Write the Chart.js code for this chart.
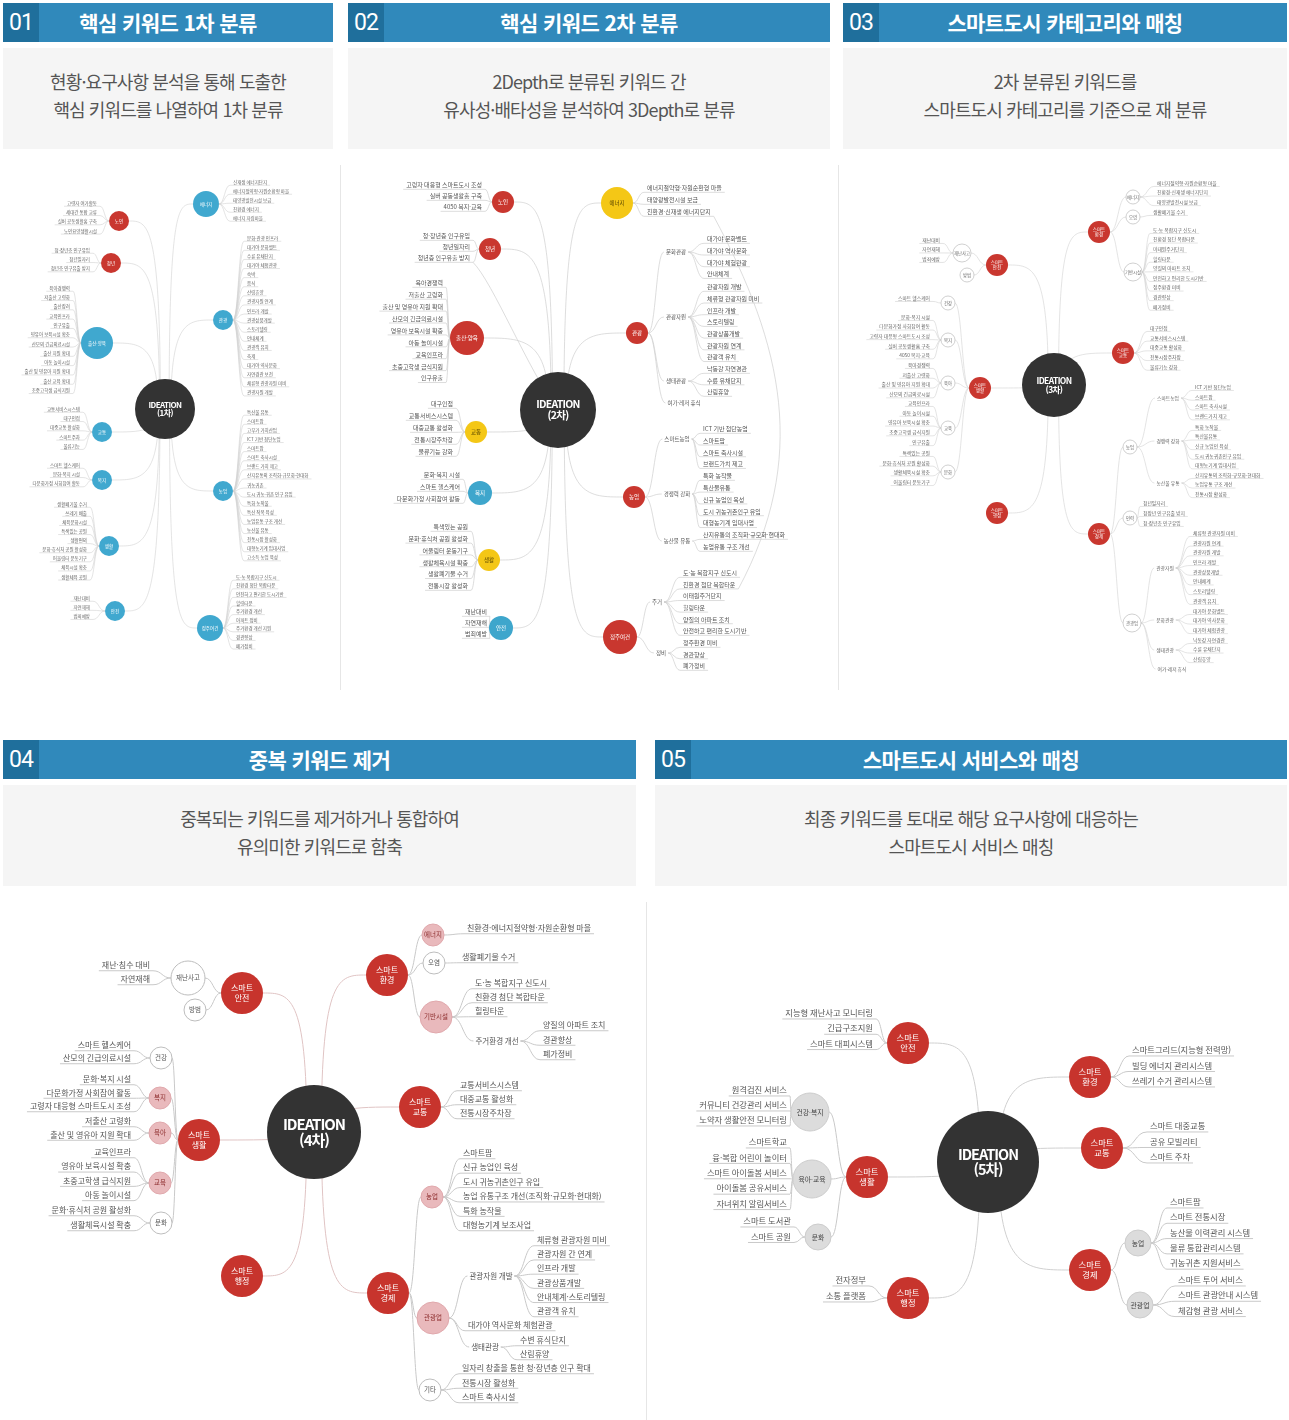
<!DOCTYPE html>
<html lang="ko">
<head>
<meta charset="utf-8">
<script src="https://cdn.jsdelivr.net/npm/chart.js@4.4.1/dist/chart.umd.min.js"></script>
<style>
html,body{margin:0;padding:0;background:#fff;}
#page{position:relative;width:1289px;height:1420px;overflow:hidden;font-family:"Noto Sans CJK KR","Noto Sans",sans-serif;}
#page canvas{position:absolute;}
.hd{position:absolute;height:39px;background:#3089bb;color:#fff;}
.hd .num{position:absolute;left:0;top:0;width:36px;height:39px;background:#1f6f9c;font:400 23px Roboto,sans-serif;line-height:39px;text-align:center;letter-spacing:-1px;z-index:1;}
.hd .tt{position:absolute;left:0;right:0;top:0;line-height:38px;text-align:center;font-weight:700;font-size:21px;letter-spacing:-0.6px;}
.desc{position:absolute;height:101px;background:#f5f5f5;color:#555;text-align:center;font-size:18px;line-height:28px;letter-spacing:-0.9px;box-sizing:border-box;padding-top:19px;}
.sep{position:absolute;width:1px;background:#e6e6e6;}
</style>
</head>
<body>
<div id="page"></div>
<script>
// ---------- panel texts
const panelNums = ['01', '02', '03', '04', '05'];
const panelTitles = ['핵심 키워드 1차 분류', '핵심 키워드 2차 분류', '스마트도시 카테고리와 매칭', '중복 키워드 제거', '스마트도시 서비스와 매칭'];
const panelDescs = [
    ['현황·요구사항 분석을 통해 도출한', '핵심 키워드를 나열하여 1차 분류'],
    ['2Depth로 분류된 키워드 간', '유사성·배타성을 분석하여 3Depth로 분류'],
    ['2차 분류된 키워드를', '스마트도시 카테고리를 기준으로 재 분류'],
    ['중복되는 키워드를 제거하거나 통합하여', '유의미한 키워드로 함축'],
    ['최종 키워드를 토대로 해당 요구사항에 대응하는', '스마트도시 서비스 매칭']
];

// ---------- map 1 : [label, x, y, kind, parent]
const m1Nodes = [
    ['IDEATION\n(1차)', 165, 409, 'hub', -1],
    ['노인', 119, 221, 'red', 0],
    ['청년', 111, 263, 'red', 0],
    ['출산·양육', 97, 343, 'blueL', 0],
    ['교통', 102, 432, 'blue', 0],
    ['복지', 102, 480, 'blue', 0],
    ['생활', 109, 546, 'blue', 0],
    ['안전', 115, 611, 'blue', 0],
    ['에너지', 206, 204, 'blueM', 0],
    ['관광', 223, 320, 'blue', 0],
    ['농업', 223, 491, 'blue', 0],
    ['정주여건', 210, 628, 'blueM', 0]
];
// [parent, x, firstY, step, items]
const m1Leaves = [
    [1, 97, 203, 9.3, ['고령자 여가활동', '세대간 통합 교류', '실버 공동생활홈 구축', '노인요양생활시설']],
    [2, 90, 250, 9.3, ['청·장년층 인구유입', '청년일자리', '청년층 인구유출 방지']],
    [3, 70, 288, 9.3, ['육아경쟁력', '저출산 고령화', '출산장려', '교육인프라', '인구유출', '영유아 보육시설 확충', '산모의 긴급의료시설', '출산 지원 확대', '아동 놀이시설', '출산 및 영유아 지원 확대', '출산 교육 확대', '초중고학생 급식지원']],
    [4, 80, 409, 9.3, ['교통서비스시스템', '대구인접', '대중교통 활성화', '스마트주차', '물류기능']],
    [5, 80, 465, 9.3, ['스마트 헬스케어', '문화·복지 시설', '다문화가정 사회참여 활동']],
    [6, 87, 504, 9.1, ['생활폐기물 수거', '쓰레기 배출', '체육문화시설', '특색있는 공원', '생활편의', '문화·휴식처 공원 활성화', '어울림터 운동기구', '체육시설 확충', '생활체육 공원']],
    [7, 90, 598, 9.1, ['재난대비', '자연재해', '범죄예방']],
    [8, 233, 182, 9, ['신재생 에너지단지', '에너지절약형·자원순환형 마을', '태양광발전시설 보급', '친환경 에너지', '에너지 자립마을']],
    [9, 247, 238, 9.1, ['문화·관광 인프라', '대가야 문화벨트', '수륜 유채단지', '대가야 체험관광', '숙박', '음식', '산림휴양', '관광자원 연계', '인프라 개발', '관광상품개발', '스토리텔링', '안내체계', '관광객 유치', '축제', '대가야 역사문화', '자연경관 보전', '체류형 관광자원 미비', '관광자원 개발']],
    [10, 247, 412, 9.1, ['특산물 유통', '스마트팜', '고부가 가치산업', 'ICT 기반 첨단농업', '스마트팜', '스마트 축사시설', '브랜드 가치 제고', '산지유통의 조직화·규모화·현대화', '귀농귀촌', '도시 귀농·귀촌 인구 유입', '특화 농작물', '특산 작목 육성', '농업유통 구조 개선', '농산물 유통', '전통시장 활성화', '대형농기계 임대사업', '고소득 농업 육성']],
    [11, 236, 577, 8.6, ['도·농 복합지구 신도시', '친환경 첨단 복합타운', '안전하고 편리한 도시기반', '힐링타운', '주거환경 개선', '아파트 정비', '주거환경 개선 지원', '경관향상', '폐가정비']]
];

// ---------- map 2
const m2Nodes = [
    ['IDEATION\n(2차)', 558, 410, 'hub', -1],
    ['노인', 503, 202, 'red', 0],
    ['청년', 490, 249, 'red', 0],
    ['출산·양육', 467, 338, 'redL', 0],
    ['교통', 476, 432, 'yellow', 0],
    ['복지', 480, 493, 'blue', 0],
    ['생활', 489, 560, 'yellow', 0],
    ['안전', 501, 628, 'blue', 0],
    ['에너지', 617, 203, 'yellowL', 0],
    ['관광', 637, 333, 'red', 0],
    ['농업', 634, 497, 'red', 0],
    ['정주여건', 620, 637, 'redL', 0],
    ['문화관광', 676, 252, 'txt', 9],
    ['관광자원', 676, 317, 'txt', 9],
    ['생태관광', 676, 381, 'txt', 9],
    ['여가·레저 휴식', 684, 403, 'txt', 9],
    ['스마트농업', 677, 439, 'txt', 10],
    ['경쟁력 강화', 677, 494, 'txt', 10],
    ['농산물 유통', 677, 541, 'txt', 10],
    ['주거', 657, 602, 'txt', 11],
    ['정비', 661, 653, 'txt', 11]
];
const m2Leaves = [
    [1, 482, 185, 11, ['고령자 대응형 스마트도시 조성', '실버 공동생활홈 구축', '4050 복지·교육']],
    [2, 470, 236, 11, ['청·장년층 인구유입', '청년일자리', '청년층 인구유출 방지']],
    [3, 443, 283, 11.9, ['육아경쟁력', '저출산 고령화', '출산 및 영유아 지원 확대', '산모의 긴급의료시설', '영유아 보육시설 확충', '아동 놀이시설', '교육인프라', '초중고학생 급식지원', '인구유출']],
    [4, 453, 404, 12, ['대구인접', '교통서비스시스템', '대중교통 활성화', '전통시장주차장', '물류기능 강화']],
    [5, 460, 475, 12, ['문화·복지 시설', '스마트 헬스케어', '다문화가정 사회참여 활동']],
    [6, 468, 527, 11.8, ['특색있는 공원', '문화·휴식처 공원 활성화', '어울림터 운동기구', '생활체육시설 확충', '생활폐기물 수거', '전통시장 활성화']],
    [7, 487, 612, 11, ['재난대비', '자연재해', '범죄예방']],
    [8, 647, 188, 12, ['에너지절약형·자원순환형 마을', '태양광발전시설 보급', '친환경·신재생 에너지단지']],
    [12, 707, 239, 11.7, ['대가야 문화벨트', '대가야 역사문화', '대가야 체험관광', '안내체계']],
    [13, 707, 287, 11.7, ['관광자원 개발', '체류형 관광자원 미비', '인프라 개발', '스토리텔링', '관광상품개발', '관광자원 연계', '관광객 유치']],
    [14, 707, 369, 11.5, ['낙동강 자연경관', '수륜 유채단지', '산림휴양']],
    [16, 703, 429, 11.7, ['ICT 기반 첨단농업', '스마트팜', '스마트 축사시설', '브랜드가치 제고']],
    [17, 703, 476, 11.8, ['특화 농작물', '특산물유통', '신규 농업인 육성', '도시 귀농귀촌인구 유입', '대형농기계 임대사업']],
    [18, 703, 535, 12, ['산지유통의 조직화·규모화·현대화', '농업유통 구조 개선']],
    [19, 683, 573, 11.6, ['도·농 복합지구 신도시', '친환경 첨단 복합타운', '이태원주거단지', '힐링타운', '양질의 아파트 조치', '안전하고 편리한 도시기반']],
    [20, 683, 643, 11.5, ['정주환경 미비', '경관향상', '폐가정비']]
];
// cross links: [group, item, group (-1 = hub), item]
const m2Links = [[1, 2, -1, 0], [7, 2, 14, 1]];

// ---------- map 3
const m3Nodes = [
    ['IDEATION\n(3차)', 1054, 385, 'hub', -1],
    ['스마트\n안전', 997, 265, 'red', 0],
    ['스마트\n생활', 980, 388, 'red', 0],
    ['스마트\n행정', 997, 513, 'red', 0],
    ['스마트\n환경', 1099, 232, 'red', 0],
    ['스마트\n교통', 1123, 353, 'red', 0],
    ['스마트\n경제', 1099, 534, 'red', 0],
    ['재난사고', 962, 253, 'whiteL', 1],
    ['방범', 967, 275, 'white', 1],
    ['건강', 948, 303, 'white', 2],
    ['복지', 948, 340, 'white', 2],
    ['육아', 948, 383, 'white', 2],
    ['교육', 948, 428, 'white', 2],
    ['문화', 948, 472, 'white', 2],
    ['에너지', 1133, 197, 'white', 4],
    ['오염', 1133, 217, 'white', 4],
    ['기반시설', 1133, 272, 'whiteL', 4],
    ['농업', 1130, 447, 'white', 6],
    ['인력', 1130, 518, 'white', 6],
    ['관광업', 1132, 623, 'whiteL', 6],
    ['스마트농업', 1168, 398, 'txt', 17],
    ['경쟁력 강화', 1168, 441, 'txt', 17],
    ['농산물 유통', 1168, 483, 'txt', 17],
    ['관광자원', 1165, 568, 'txt', 19],
    ['문화관광', 1165, 620, 'txt', 19],
    ['생태관광', 1165, 650, 'txt', 19],
    ['여가·레저 휴식', 1172, 669, 'txt', 19]
];
const m3Leaves = [
    [7, 940, 240, 9.5, ['재난대비', '자연재해', '범죄예방']],
    [9, 930, 298, 9.5, ['스마트 헬스케어']],
    [10, 930, 317, 9.6, ['문화·복지 시설', '다문화가정 사회참여 활동', '고령자 대응형 스마트도시 조성', '실버 공동생활홈 구축', '4050 복지·교육']],
    [11, 930, 365, 9.8, ['육아경쟁력', '저출산 고령화', '출산 및 영유아 지원 확대', '산모의 긴급의료시설']],
    [12, 930, 403, 9.8, ['교육인프라', '아동 놀이시설', '영유아 보육시설 확충', '초중고학생 급식지원', '인구유출']],
    [13, 930, 453, 9.7, ['특색있는 공원', '문화·휴식처 공원 활성화', '생활체육시설 확충', '어울림터 운동기구']],
    [14, 1157, 183, 9.6, ['에너지절약형·자원순환형 마을', '친환경·신재생 에너지단지', '태양광발전시설 보급']],
    [15, 1153, 212, 9, ['생활폐기물 수거']],
    [16, 1153, 230, 9.6, ['도·농 복합지구 신도시', '친환경 첨단 복합타운', '이태원주거단지', '힐링타운', '양질의 아파트 조치', '안전하고 편리한 도시기반', '정주환경 미비', '경관향상', '폐가정비']],
    [5, 1150, 328, 9.7, ['대구인접', '교통서비스시스템', '대중교통 활성화', '전통시장주차장', '물류기능 강화']],
    [20, 1195, 387, 9.8, ['ICT 기반 첨단농업', '스마트팜', '스마트 축사시설', '브랜드가치 제고']],
    [21, 1195, 427, 9.6, ['특화 농작물', '특산물유통', '신규 농업인 육성', '도시 귀농귀촌인구 유입', '대형농기계 임대사업']],
    [22, 1195, 475, 9.6, ['산지유통의 조직화·규모화·현대화', '농업유통 구조 개선', '전통시장 활성화']],
    [18, 1143, 503, 10, ['청년일자리', '청장년 인구유출 방지', '청·장년층 인구유입']],
    [23, 1193, 533, 9.7, ['체류형 관광자원 미비', '관광자원 연계', '관광자원 개발', '인프라 개발', '관광상품개발', '안내체계', '스토리텔링', '관광객 유치']],
    [24, 1193, 611, 9.6, ['대가야 문화벨트', '대가야 역사문화', '대가야 체험관광']],
    [25, 1193, 640, 9.6, ['낙동강 자연경관', '수륜 유채단지', '산림휴양']]
];

// ---------- map 4
const m4Nodes = [
    ['IDEATION\n(4차)', 314, 1132, 'hub', -1],
    ['스마트\n안전', 242, 993, 'red', 0],
    ['스마트\n생활', 199, 1140, 'red', 0],
    ['스마트\n행정', 242, 1276, 'red', 0],
    ['스마트\n환경', 387, 975, 'red', 0],
    ['스마트\n교통', 420, 1107, 'red', 0],
    ['스마트\n경제', 388, 1293, 'red', 0],
    ['재난사고', 188, 978, 'whiteL', 1],
    ['방범', 195, 1010, 'white', 1],
    ['건강', 161, 1058, 'white', 2],
    ['복지', 160, 1098, 'pink', 2],
    ['육아', 160, 1133, 'pink', 2],
    ['교육', 160, 1183, 'pink', 2],
    ['문화', 161, 1223, 'white', 2],
    ['에너지', 433, 935, 'pink', 4],
    ['오염', 434, 963, 'white', 4],
    ['기반시설', 436, 1017, 'pinkL', 4],
    ['주거환경 개선', 497, 1041, 'txt', 16],
    ['농업', 432, 1197, 'pink', 6],
    ['관광업', 433, 1318, 'pinkL', 6],
    ['관광자원 개발', 491, 1276, 'txt', 19],
    ['생태관광', 485, 1347, 'txt', 19],
    ['기타', 430, 1390, 'white', 6]
];
const m4Leaves = [
    [7, 150, 965, 14, ['재난·침수 대비', '자연재해']],
    [9, 131, 1045, 13, ['스마트 헬스케어', '산모의 긴급의료시설']],
    [10, 131, 1079, 13.5, ['문화·복지 시설', '다문화가정 사회참여 활동', '고령자 대응형 스마트도시 조성']],
    [11, 131, 1121, 13.5, ['저출산 고령화', '출산 및 영유아 지원 확대']],
    [12, 131, 1152, 14.3, ['교육인프라', '영유아 보육시설 확충', '초중고학생 급식지원', '아동 놀이시설']],
    [13, 131, 1210, 15, ['문화·휴식처 공원 활성화', '생활체육시설 확충']],
    [14, 467, 928, 13, ['친환경·에너지절약형·자원순환형 마을']],
    [15, 462, 957, 13, ['생활폐기물 수거']],
    [16, 475, 983, 14, ['도·농 복합지구 신도시', '친환경 첨단 복합타운', '힐링타운']],
    [17, 543, 1025, 14.5, ['양질의 아파트 조치', '경관향상', '폐가정비']],
    [5, 460, 1085, 14, ['교통서비스시스템', '대중교통 활성화', '전통시장주차장']],
    [18, 463, 1153, 14.4, ['스마트팜', '신규 농업인 육성', '도시 귀농귀촌인구 유입', '농업 유통구조 개선(조직화·규모화·현대화)', '특화 농작물', '대형농기계 보조사업']],
    [20, 537, 1240, 14.2, ['체류형 관광자원 미비', '관광자원 간 연계', '인프라 개발', '관광상품개발', '안내체계·스토리텔링', '관광객 유치']],
    [19, 468, 1325, 14, ['대가야 역사문화 체험관광']],
    [21, 520, 1340, 14, ['수변 휴식단지', '산림휴양']],
    [22, 462, 1368, 14.5, ['일자리 창출을 통한 청·장년층 인구 확대', '전통시장 활성화', '스마트 축사시설']]
];

// ---------- map 5
const m5Nodes = [
    ['IDEATION\n(5차)', 988, 1162, 'hub', -1],
    ['스마트\n안전', 908, 1043, 'red', 0],
    ['스마트\n생활', 867, 1177, 'red', 0],
    ['스마트\n행정', 908, 1298, 'red', 0],
    ['스마트\n환경', 1090, 1077, 'red', 0],
    ['스마트\n교통', 1102, 1148, 'red', 0],
    ['스마트\n경제', 1090, 1270, 'red', 0],
    ['건강·복지', 810, 1112, 'grey', 2],
    ['육아·교육', 812, 1179, 'grey', 2],
    ['문화', 818, 1237, 'greyS', 2],
    ['농업', 1138, 1243, 'greyS', 6],
    ['관광업', 1140, 1305, 'greyS', 6]
];
const m5Leaves = [
    [1, 873, 1013, 15.3, ['지능형 재난사고 모니터링', '긴급구조지원', '스마트 대피시스템']],
    [7, 787, 1090, 15, ['원격검진 서비스', '커뮤니티 건강관리 서비스', '노약자 생활안전 모니터링']],
    [8, 787, 1142, 15.4, ['스마트학교', '융·복합 어린이 놀이터', '스마트 아이돌봄 서비스', '아이돌봄 공유서비스', '자녀위치 알림서비스']],
    [9, 791, 1221, 15.5, ['스마트 도서관', '스마트 공원']],
    [3, 866, 1280, 16, ['전자정부', '소통 플랫폼']],
    [4, 1132, 1050, 15.5, ['스마트그리드(지능형 전력망)', '빌딩 에너지 관리시스템', '쓰레기 수거 관리시스템']],
    [5, 1150, 1126, 15.5, ['스마트 대중교통', '공유 모빌리티', '스마트 주차']],
    [10, 1170, 1202, 15.3, ['스마트팜', '스마트 전통시장', '농산물 이력관리 시스템', '물류 통합관리시스템', '귀농귀촌 지원서비스']],
    [11, 1178, 1280, 15.3, ['스마트 투어 서비스', '스마트 관광안내 시스템', '체감형 관광 서비스']]
];

// ---------- styles
const CJK = '"Noto Sans CJK KR", "Noto Sans", sans-serif';
function kind(r, fill, stroke, bw, size, color, bold) {
    return {
        r: r, fill: fill, stroke: stroke || fill, bw: bw || 0, size: size, color: color,
        font: (bold ? '700 ' : '400 ') + size + 'px ' + CJK,
        lh: size * (bold ? 1.05 : 1.2), ls: bold ? (-size * 0.07) + 'px' : '0px'
    };
}
const NONE = 'rgba(0,0,0,0)';
const RED = '#c9372f', BLUE = '#40a8cf', YEL = '#f4c716';
const kinds1 = {
    hub: kind(30, '#333333', 0, 0, 8, '#fff', true),
    red: kind(10, RED, 0, 0, 4.5, '#fff'),
    blue: kind(10, BLUE, 0, 0, 4.5, '#fff'),
    blueM: kind(13, BLUE, 0, 0, 4.5, '#fff'),
    blueL: kind(16, BLUE, 0, 0, 4.5, '#fff')
};
const kinds2 = {
    hub: kind(38, '#333333', 0, 0, 10.5, '#fff', true),
    red: kind(11, RED, 0, 0, 5.5, '#fff'),
    redL: kind(17, RED, 0, 0, 5.5, '#fff'),
    yellow: kind(11, YEL, 0, 0, 5.5, '#5b4800'),
    yellowL: kind(16, YEL, 0, 0, 5.5, '#5b4800'),
    blue: kind(12, '#3ea6cc', 0, 0, 5.5, '#fff'),
    txt: kind(0, NONE, 0, 0, 5.5, '#555')
};
const kinds3 = {
    hub: kind(32, '#333333', 0, 0, 8.5, '#fff', true),
    red: kind(11, RED, 0, 0, 4.5, '#fff'),
    white: kind(7, '#fff', '#bbbbbb', 0.7, 4.3, '#666'),
    whiteL: kind(9, '#fff', '#bbbbbb', 0.7, 4.3, '#666'),
    txt: kind(0, NONE, 0, 0, 4.8, '#666')
};
const kinds4 = {
    hub: kind(47, '#333333', 0, 0, 15, '#fff', true),
    red: kind(21, '#c7342d', 0, 0, 8, '#fff'),
    pink: kind(11, '#e9b9bc', '#e0a8ac', 1, 6.5, '#8e2f2f'),
    pinkL: kind(16, '#e9b9bc', '#e0a8ac', 1, 6.5, '#8e2f2f'),
    white: kind(11, '#fff', '#bdbdbd', 1, 6.5, '#555'),
    whiteL: kind(17, '#fff', '#bdbdbd', 1, 6.5, '#555'),
    txt: kind(0, NONE, 0, 0, 7.5, '#555')
};
const kinds5 = {
    hub: kind(51, '#333333', 0, 0, 14.5, '#fff', true),
    red: kind(21, '#c7342d', 0, 0, 8.3, '#fff'),
    grey: kind(19, '#dcdcdc', '#cccccc', 1, 6.8, '#444'),
    greyS: kind(13, '#dcdcdc', '#cccccc', 1, 6.8, '#444')
};
function look(size, color, line, hubLine, lw) {
    return { size: size, font: '400 ' + size + 'px ' + CJK, color: color, line: line, hubLine: hubLine, lw: lw };
}

// ---------- page chrome
const page = document.getElementById('page');
const headRects = [[3, 3, 330], [348, 3, 482], [843, 3, 444], [3, 740, 633], [655, 740, 632]];
headRects.forEach((r, i) => {
    const hd = document.createElement('div');
    hd.className = 'hd';
    hd.style.cssText = `left:${r[0]}px;top:${r[1]}px;width:${r[2]}px`;
    hd.innerHTML = `<span class="num">${panelNums[i]}</span><span class="tt">${panelTitles[i]}</span>`;
    page.appendChild(hd);
    const d = document.createElement('div');
    d.className = 'desc';
    d.style.cssText = `left:${r[0]}px;top:${r[1] + 45}px;width:${r[2]}px`;
    d.innerHTML = panelDescs[i].join('<br>');
    page.appendChild(d);
});
[[340, 165, 525], [838, 165, 525], [646, 902, 518]].forEach(s => {
    const e = document.createElement('div');
    e.className = 'sep';
    e.style.cssText = `left:${s[0]}px;top:${s[1]}px;height:${s[2]}px`;
    page.appendChild(e);
});

// ---------- mind map drawing
function nodeEdge(ctx, n, k, dir) {
    if (k.r > 0) return n[1] + dir * k.r;
    ctx.font = k.font;
    return n[1] + dir * (ctx.measureText(n[0]).width / 2 + 2);
}

function mindPlugin(nodes, leaves, links, kinds, lk) {
    const leafEnd = (ctx, g, i, far) => {
        const p = nodes[g[0]];
        const dir = g[1] >= p[1] ? 1 : -1;
        ctx.font = lk.font;
        const w = ctx.measureText(g[4][i]).width;
        return [far ? g[1] + dir * (w + 3) : g[1] - dir * 3, g[2] + i * g[3] + lk.size * 0.72];
    };
    return {
        id: 'mind',
        beforeDatasetsDraw(chart) {
            const ctx = chart.ctx, sx = chart.scales.x, sy = chart.scales.y;
            const X = v => sx.getPixelForValue(v), Y = v => sy.getPixelForValue(v);
            ctx.save();
            if ('letterSpacing' in ctx) ctx.letterSpacing = '0px';
            ctx.lineWidth = lk.lw;
            nodes.forEach(n => {
                if (n[4] < 0) return;
                const p = nodes[n[4]], pk = kinds[p[3]], k = kinds[n[3]];
                const dir = n[1] >= p[1] ? 1 : -1;
                const ex = nodeEdge(ctx, n, k, -dir);
                ctx.beginPath();
                if (p[4] < 0) {
                    const x0 = p[1] + (n[1] - p[1]) * 0.1;
                    ctx.strokeStyle = lk.hubLine;
                    ctx.moveTo(X(x0), Y(p[2]));
                    ctx.bezierCurveTo(X(x0), Y(n[2]), X(x0 + (ex - x0) * 0.4), Y(n[2]), X(ex), Y(n[2]));
                } else {
                    const x0 = nodeEdge(ctx, p, pk, dir), mx = (x0 + ex) / 2;
                    ctx.strokeStyle = lk.line;
                    ctx.moveTo(X(x0), Y(p[2]));
                    ctx.bezierCurveTo(X(mx), Y(p[2]), X(mx), Y(n[2]), X(ex), Y(n[2]));
                }
                ctx.stroke();
            });
            ctx.strokeStyle = lk.line;
            leaves.forEach(g => {
                const p = nodes[g[0]], pk = kinds[p[3]];
                const dir = g[1] >= p[1] ? 1 : -1;
                const x0 = nodeEdge(ctx, p, pk, dir);
                g[4].forEach((t, i) => {
                    const a = leafEnd(ctx, g, i, false), b = leafEnd(ctx, g, i, true);
                    const mx = (x0 + a[0]) / 2;
                    ctx.beginPath();
                    ctx.moveTo(X(x0), Y(p[2]));
                    ctx.bezierCurveTo(X(mx), Y(p[2]), X(mx), Y(a[1]), X(a[0]), Y(a[1]));
                    ctx.lineTo(X(b[0]), Y(b[1]));
                    ctx.stroke();
                });
            });
            links.forEach(l => {
                const a = leafEnd(ctx, leaves[l[0]], l[1], l[2] >= 0);
                ctx.beginPath();
                ctx.moveTo(X(a[0]), Y(a[1]));
                if (l[2] < 0) {
                    const h = nodes[0];
                    ctx.bezierCurveTo(X(a[0] + 20), Y(a[1] + 20), X(h[1] - 30), Y(h[2] - 40), X(h[1]), Y(h[2]));
                } else {
                    const b = leafEnd(ctx, leaves[l[2]], l[3], true), d = b[1] - a[1];
                    ctx.bezierCurveTo(X(a[0] + 70), Y(a[1] + d * 0.35), X(b[0] + 70), Y(b[1] - d * 0.35), X(b[0]), Y(b[1]));
                }
                ctx.stroke();
            });
            ctx.restore();
        },
        afterDatasetsDraw(chart) {
            const ctx = chart.ctx, sx = chart.scales.x, sy = chart.scales.y;
            const X = v => sx.getPixelForValue(v), Y = v => sy.getPixelForValue(v);
            ctx.save();
            ctx.textBaseline = 'middle';
            ctx.textAlign = 'center';
            nodes.forEach(n => {
                const k = kinds[n[3]];
                ctx.font = k.font;
                ctx.fillStyle = k.color;
                if ('letterSpacing' in ctx) ctx.letterSpacing = k.ls;
                const lines = n[0].split('\n');
                lines.forEach((s, i) => {
                    ctx.fillText(s, X(n[1]), Y(n[2] + (i - (lines.length - 1) / 2) * k.lh));
                });
            });
            if ('letterSpacing' in ctx) ctx.letterSpacing = '0px';
            ctx.font = lk.font;
            ctx.fillStyle = lk.color;
            leaves.forEach(g => {
                const dir = g[1] >= nodes[g[0]][1] ? 1 : -1;
                ctx.textAlign = dir > 0 ? 'left' : 'right';
                g[4].forEach((t, i) => ctx.fillText(t, X(g[1]), Y(g[2] + i * g[3])));
            });
            ctx.restore();
        }
    };
}

function makeMap(rect, nodes, leaves, links, kinds, lk) {
    const cv = document.createElement('canvas');
    cv.width = rect[2];
    cv.height = rect[3];
    cv.style.left = rect[0] + 'px';
    cv.style.top = rect[1] + 'px';
    page.appendChild(cv);
    new Chart(cv, {
        type: 'bubble',
        data: {
            datasets: [{
                data: nodes.map(n => ({ x: n[1], y: n[2], r: kinds[n[3]].r })),
                backgroundColor: nodes.map(n => kinds[n[3]].fill),
                borderColor: nodes.map(n => kinds[n[3]].stroke),
                borderWidth: nodes.map(n => kinds[n[3]].bw),
                hoverRadius: 0,
                clip: false
            }]
        },
        options: {
            responsive: false,
            animation: false,
            devicePixelRatio: 1,
            events: [],
            layout: { padding: 0, autoPadding: false },
            scales: {
                x: { type: 'linear', min: rect[0], max: rect[0] + rect[2], display: false },
                y: { type: 'linear', min: rect[1], max: rect[1] + rect[3], reverse: true, display: false }
            },
            plugins: { legend: { display: false }, tooltip: { enabled: false } }
        },
        plugins: [mindPlugin(nodes, leaves, links, kinds, lk)]
    });
}

makeMap([3, 158, 336, 535], m1Nodes, m1Leaves, [], kinds1, look(4.5, '#666', '#d2d2d2', '#d2d2d2', 0.6));
makeMap([341, 158, 496, 535], m2Nodes, m2Leaves, m2Links, kinds2, look(6, '#555', '#cfcfcf', '#cfcfcf', 0.7));
makeMap([839, 158, 450, 535], m3Nodes, m3Leaves, [], kinds3, look(4.8, '#666', '#d2d2d2', '#d2d2d2', 0.6));
makeMap([0, 893, 645, 527], m4Nodes, m4Leaves, [], kinds4, look(8, '#555', '#c9c9c9', '#e0c4c4', 1));
makeMap([647, 893, 642, 527], m5Nodes, m5Leaves, [], kinds5, look(8.3, '#555', '#c9c9c9', '#d0d0d0', 1));
</script>
</body>
